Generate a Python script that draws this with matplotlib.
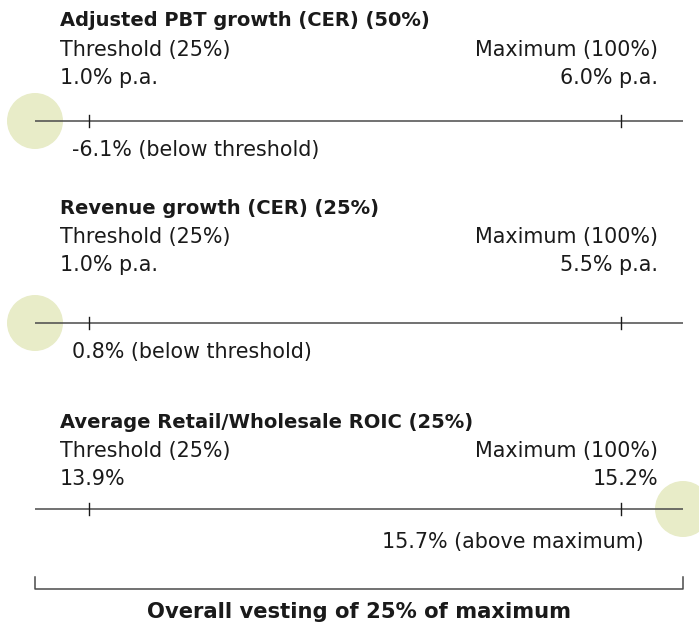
import matplotlib
matplotlib.use("Agg")
import matplotlib.pyplot as plt
from matplotlib.patches import Ellipse

# Performance measures
measures = ["Adjusted PBT growth (CER) (50%)",
            "Revenue growth (CER) (25%)",
            "Average Retail/Wholesale ROIC (25%)"]
thresholds = [1.0, 1.0, 13.9]
maxima = [6.0, 5.5, 15.2]
actuals = [-6.1, 0.8, 15.7]
threshold_labels = ["1.0% p.a.", "1.0% p.a.", "13.9%"]
maximum_labels = ["6.0% p.a.", "5.5% p.a.", "15.2%"]
outcome_labels = ["-6.1% (below threshold)",
                  "0.8% (below threshold)",
                  "15.7% (above maximum)"]
overall_vesting = "Overall vesting of 25% of maximum"

W, H = 699, 630
fig = plt.figure(figsize=(W / 100, H / 100), dpi=100)
ax = fig.add_axes([0, 0, 1, 1])

# x axis: 0 = threshold, 1 = maximum; y axis in pixel rows
X0, X1 = 89, 621
span = X1 - X0
ax.set_xlim(-X0 / span, (W - X0) / span)
ax.set_ylim(H, 0)
ax.axis("off")

def px(x):
    return (x - X0) / span

line_lo, line_hi = px(35), px(683)
head_y = [21, 208, 422]
row_y = [121, 323, 509]
label_y = [150, 352, 542]
font = "DejaVu Sans"
ink = "#1a1a1a"
line_col = "#4a4a4a"
dot_col = "#e8ecc8"
fs = 14.9
fs_b = 14.0

for i in range(3):
    y = row_y[i]
    hy = head_y[i]
    ax.text(px(60), hy, measures[i], fontsize=fs_b, fontweight="bold",
            family=font, color=ink, va="center", ha="left")
    ax.text(px(60), hy + 29, "Threshold (25%)", fontsize=fs, family=font,
            color=ink, va="center", ha="left")
    ax.text(px(658), hy + 29, "Maximum (100%)", fontsize=fs, family=font,
            color=ink, va="center", ha="right")
    ax.text(px(60), hy + 57, threshold_labels[i], fontsize=fs, family=font,
            color=ink, va="center", ha="left")
    ax.text(px(658), hy + 57, maximum_labels[i], fontsize=fs, family=font,
            color=ink, va="center", ha="right")

    # scale line with threshold and maximum ticks
    ax.plot([line_lo, line_hi], [y, y], color=line_col, lw=1.1, zorder=2,
            solid_capstyle="butt")
    for t in (0.0, 1.0):
        ax.plot([t, t], [y - 6, y + 6], color=ink, lw=1.0, zorder=3)

    # outcome marker: below threshold sits at the start, above maximum at the end
    prog = (actuals[i] - thresholds[i]) / (maxima[i] - thresholds[i])
    if prog < 0:
        pos = line_lo
    elif prog > 1:
        pos = line_hi
    else:
        pos = prog
    ax.add_patch(Ellipse((pos, y), 56 / span, 56, color=dot_col, zorder=1,
                         lw=0))
    if prog < 0:
        ax.text(px(72), label_y[i], outcome_labels[i], fontsize=fs,
                family=font, color=ink, va="center", ha="left")
    else:
        ax.text(px(644), label_y[i], outcome_labels[i], fontsize=fs,
                family=font, color=ink, va="center", ha="right")

# bracket across the full scale
by = 589
ax.plot([line_lo, line_lo, line_hi, line_hi], [by - 12, by, by, by - 12],
        color=line_col, lw=1.1, zorder=2)
ax.text((line_lo + line_hi) / 2, by + 23, overall_vesting, fontsize=15.2,
        fontweight="bold", family=font, color=ink, va="center", ha="center")

fig.savefig("out.png", dpi=100)
